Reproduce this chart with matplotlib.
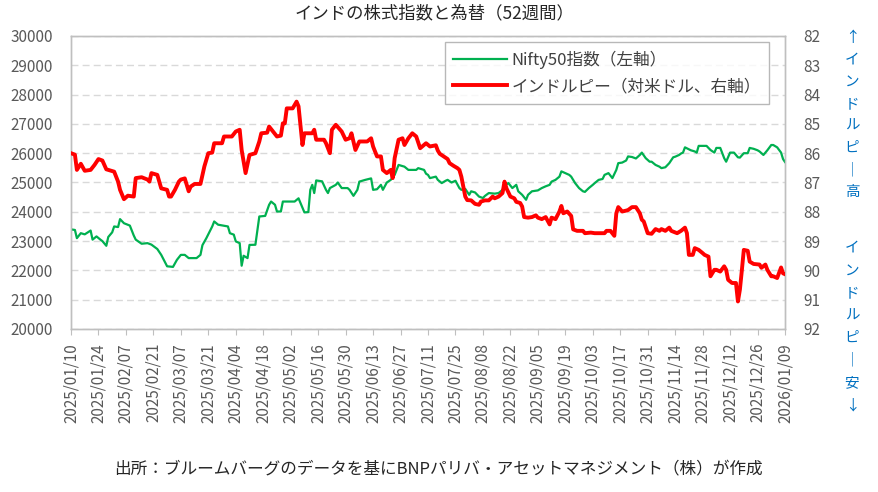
import matplotlib
matplotlib.use('Agg')
import matplotlib.pyplot as plt
import pandas as pd

plt.rcParams['font.family'] = ['Noto Sans CJK JP', 'DejaVu Sans']

# Nifty50 (left axis)
nifty_dates = [
    '2025/01/10', '2025/01/12', '2025/01/13', '2025/01/15', '2025/01/17', '2025/01/20', '2025/01/21', '2025/01/23',
    '2025/01/25', '2025/01/26', '2025/01/28', '2025/01/29', '2025/01/31', '2025/02/01', '2025/02/03', '2025/02/04',
    '2025/02/06', '2025/02/09', '2025/02/11', '2025/02/12', '2025/02/15', '2025/02/18', '2025/02/20', '2025/02/23',
    '2025/02/25', '2025/02/28', '2025/03/03', '2025/03/05', '2025/03/07', '2025/03/09', '2025/03/11', '2025/03/15',
    '2025/03/17', '2025/03/18', '2025/03/20', '2025/03/23', '2025/03/24', '2025/03/26', '2025/03/31', '2025/04/01',
    '2025/04/03', '2025/04/04', '2025/04/06', '2025/04/07', '2025/04/08', '2025/04/10', '2025/04/11', '2025/04/14',
    '2025/04/16', '2025/04/19', '2025/04/21', '2025/04/22', '2025/04/24', '2025/04/25', '2025/04/27', '2025/04/28',
    '2025/05/04', '2025/05/06', '2025/05/07', '2025/05/09', '2025/05/11', '2025/05/12', '2025/05/13', '2025/05/14',
    '2025/05/15', '2025/05/18', '2025/05/20', '2025/05/21', '2025/05/22', '2025/05/25', '2025/05/26', '2025/05/28',
    '2025/05/31', '2025/06/01', '2025/06/03', '2025/06/05', '2025/06/06', '2025/06/09', '2025/06/12', '2025/06/13',
    '2025/06/15', '2025/06/17', '2025/06/18', '2025/06/20', '2025/06/22', '2025/06/24', '2025/06/26', '2025/06/29',
    '2025/07/01', '2025/07/05', '2025/07/06', '2025/07/09', '2025/07/10', '2025/07/11', '2025/07/12', '2025/07/15',
    '2025/07/16', '2025/07/18', '2025/07/20', '2025/07/21', '2025/07/23', '2025/07/25', '2025/07/27', '2025/07/28',
    '2025/07/30', '2025/08/01', '2025/08/02', '2025/08/04', '2025/08/06', '2025/08/08', '2025/08/09', '2025/08/11',
    '2025/08/14', '2025/08/16', '2025/08/18', '2025/08/19', '2025/08/21', '2025/08/23', '2025/08/25', '2025/08/26',
    '2025/08/28', '2025/08/30', '2025/08/31', '2025/09/02', '2025/09/05', '2025/09/07', '2025/09/09', '2025/09/11',
    '2025/09/12', '2025/09/14', '2025/09/16', '2025/09/17', '2025/09/19', '2025/09/21', '2025/09/22', '2025/09/24',
    '2025/09/26', '2025/09/28', '2025/09/29', '2025/10/01', '2025/10/03', '2025/10/04', '2025/10/06', '2025/10/08',
    '2025/10/09', '2025/10/11', '2025/10/13', '2025/10/15', '2025/10/16', '2025/10/18', '2025/10/20', '2025/10/21',
    '2025/10/23', '2025/10/25', '2025/10/27', '2025/10/28', '2025/10/30', '2025/11/01', '2025/11/02', '2025/11/04',
    '2025/11/06', '2025/11/07', '2025/11/09', '2025/11/11', '2025/11/13', '2025/11/14', '2025/11/16', '2025/11/17',
    '2025/11/18', '2025/11/19', '2025/11/22', '2025/11/24', '2025/11/25', '2025/11/26', '2025/11/30', '2025/12/02',
    '2025/12/04', '2025/12/05', '2025/12/07', '2025/12/09', '2025/12/10', '2025/12/12', '2025/12/14', '2025/12/16',
    '2025/12/17', '2025/12/19', '2025/12/21', '2025/12/22', '2025/12/24', '2025/12/26', '2025/12/27', '2025/12/29',
    '2025/12/31', '2026/01/02', '2026/01/03', '2026/01/05', '2026/01/07', '2026/01/08', '2026/01/09']
nifty = [
    23400, 23380, 23100, 23270, 23230, 23360, 23050, 23160,
    23050, 23000, 22840, 23140, 23300, 23500, 23480, 23750,
    23610, 23530, 23190, 23050, 22910, 22930, 22880, 22730,
    22530, 22140, 22120, 22360, 22530, 22530, 22420, 22420,
    22530, 22860, 23100, 23500, 23670, 23560, 23500, 23270,
    23220, 22990, 22930, 22160, 22500, 22420, 22870, 22875,
    23840, 23860, 24240, 24350, 24240, 24010, 24010, 24350,
    24350, 24460, 24300, 23980, 23990, 24750, 24920, 24640,
    25070, 25040, 24750, 24640, 24810, 24920, 25000, 24810,
    24810, 24750, 24545, 24750, 25030, 25090, 25140, 24750,
    24770, 24920, 24750, 25000, 25090, 25260, 25600, 25540,
    25430, 25430, 25490, 25430, 25300, 25260, 25150, 25200,
    25090, 24980, 25060, 25090, 25000, 25060, 24810, 24750,
    24780, 24580, 24700, 24660, 24520, 24470, 24540, 24640,
    24620, 24640, 24750, 24890, 24980, 24810, 24920, 24700,
    24580, 24410, 24580, 24700, 24730, 24810, 24870, 24920,
    25030, 25090, 25200, 25380, 25320, 25260, 25200, 24980,
    24810, 24700, 24680, 24810, 24920, 24980, 25090, 25120,
    25260, 25320, 25150, 25430, 25660, 25680, 25750, 25890,
    25870, 25820, 25940, 26020, 25830, 25710, 25710, 25600,
    25540, 25490, 25520, 25660, 25860, 25880, 25940, 25990,
    26020, 26200, 26100, 26060, 26020, 26250, 26250, 26110,
    26020, 26180, 26180, 25830, 25710, 26020, 26020, 25860,
    25850, 26000, 26000, 26180, 26150, 26100, 26060, 25940,
    26100, 26280, 26280, 26200, 26020, 25800, 25700]

# Indian rupee per US dollar (right axis, inverted)
inr_dates = [
    '2025/01/10', '2025/01/12', '2025/01/13', '2025/01/15', '2025/01/17', '2025/01/20', '2025/01/22', '2025/01/24',
    '2025/01/26', '2025/01/28', '2025/02/01', '2025/02/03', '2025/02/04', '2025/02/06', '2025/02/08', '2025/02/11',
    '2025/02/12', '2025/02/15', '2025/02/18', '2025/02/19', '2025/02/20', '2025/02/23', '2025/02/25', '2025/02/28',
    '2025/03/01', '2025/03/02', '2025/03/04', '2025/03/06', '2025/03/07', '2025/03/09', '2025/03/11', '2025/03/12',
    '2025/03/14', '2025/03/17', '2025/03/19', '2025/03/21', '2025/03/23', '2025/03/24', '2025/03/28', '2025/03/29',
    '2025/04/02', '2025/04/04', '2025/04/06', '2025/04/07', '2025/04/09', '2025/04/11', '2025/04/14', '2025/04/16',
    '2025/04/17', '2025/04/20', '2025/04/21', '2025/04/23', '2025/04/25', '2025/04/27', '2025/04/28', '2025/04/29',
    '2025/04/30', '2025/05/03', '2025/05/05', '2025/05/06', '2025/05/08', '2025/05/09', '2025/05/13', '2025/05/14',
    '2025/05/15', '2025/05/19', '2025/05/20', '2025/05/22', '2025/05/23', '2025/05/25', '2025/05/28', '2025/05/30',
    '2025/06/01', '2025/06/02', '2025/06/04', '2025/06/06', '2025/06/10', '2025/06/12', '2025/06/13', '2025/06/15',
    '2025/06/17', '2025/06/18', '2025/06/20', '2025/06/22', '2025/06/23', '2025/06/24', '2025/06/26', '2025/06/28',
    '2025/06/29', '2025/07/01', '2025/07/03', '2025/07/05', '2025/07/07', '2025/07/10', '2025/07/12', '2025/07/15',
    '2025/07/16', '2025/07/17', '2025/07/19', '2025/07/21', '2025/07/22', '2025/07/24', '2025/07/26', '2025/07/27',
    '2025/07/28', '2025/07/30', '2025/07/31', '2025/08/02', '2025/08/04', '2025/08/06', '2025/08/07', '2025/08/09',
    '2025/08/11', '2025/08/13', '2025/08/14', '2025/08/16', '2025/08/18', '2025/08/19', '2025/08/20', '2025/08/22',
    '2025/08/24', '2025/08/25', '2025/08/27', '2025/08/28', '2025/08/29', '2025/08/31', '2025/09/02', '2025/09/04',
    '2025/09/05', '2025/09/07', '2025/09/09', '2025/09/11', '2025/09/12', '2025/09/14', '2025/09/16', '2025/09/17',
    '2025/09/18', '2025/09/20', '2025/09/22', '2025/09/23', '2025/09/25', '2025/09/28', '2025/09/29', '2025/10/02',
    '2025/10/04', '2025/10/07', '2025/10/09', '2025/10/10', '2025/10/12', '2025/10/14', '2025/10/15', '2025/10/16',
    '2025/10/18', '2025/10/20', '2025/10/21', '2025/10/23', '2025/10/25', '2025/10/27', '2025/10/28', '2025/10/29',
    '2025/10/31', '2025/11/02', '2025/11/04', '2025/11/06', '2025/11/07', '2025/11/09', '2025/11/11', '2025/11/12',
    '2025/11/15', '2025/11/17', '2025/11/19', '2025/11/20', '2025/11/21', '2025/11/23', '2025/11/24', '2025/11/26',
    '2025/11/28', '2025/11/29', '2025/12/01', '2025/12/02', '2025/12/04', '2025/12/05', '2025/12/07', '2025/12/09',
    '2025/12/10', '2025/12/11', '2025/12/13', '2025/12/15', '2025/12/16', '2025/12/17', '2025/12/18', '2025/12/19',
    '2025/12/21', '2025/12/22', '2025/12/24', '2025/12/27', '2025/12/28', '2025/12/30', '2025/12/31', '2026/01/02',
    '2026/01/03', '2026/01/05', '2026/01/07', '2026/01/08', '2026/01/09']
inr = [
    86.00, 86.05, 86.57, 86.36, 86.60, 86.57, 86.40, 86.20,
    86.25, 86.55, 86.63, 86.97, 87.25, 87.57, 87.45, 87.48,
    86.85, 86.82, 86.90, 86.97, 86.68, 86.74, 87.20, 87.25,
    87.48, 87.48, 87.25, 86.97, 86.90, 86.86, 87.30, 87.14,
    87.05, 87.05, 86.45, 86.00, 85.98, 85.66, 85.66, 85.43,
    85.43, 85.26, 85.20, 85.89, 86.68, 86.06, 86.00, 85.60,
    85.32, 85.30, 85.09, 85.26, 85.43, 85.40, 84.98, 84.98,
    84.47, 84.47, 84.24, 84.40, 85.72, 85.32, 85.32, 85.20,
    85.54, 85.54, 85.66, 86.00, 85.20, 85.03, 85.26, 85.54,
    85.49, 85.32, 85.89, 85.60, 85.60, 85.49, 85.77, 86.11,
    86.11, 86.57, 86.68, 86.57, 86.85, 86.17, 85.54, 85.49,
    85.72, 85.49, 85.32, 85.43, 85.83, 85.66, 85.77, 85.73,
    85.91, 86.02, 86.11, 86.20, 86.34, 86.43, 86.51, 86.57,
    86.80, 87.48, 87.60, 87.61, 87.73, 87.76, 87.65, 87.61,
    87.61, 87.48, 87.54, 87.48, 87.36, 86.97, 87.20, 87.48,
    87.54, 87.66, 87.70, 87.82, 88.18, 88.20, 88.18, 88.12,
    88.20, 88.25, 88.18, 88.43, 88.20, 88.25, 87.99, 87.80,
    88.05, 87.99, 88.14, 88.60, 88.65, 88.65, 88.73, 88.71,
    88.73, 88.73, 88.73, 88.65, 88.65, 88.82, 88.05, 87.84,
    87.99, 87.96, 87.94, 87.84, 87.84, 88.05, 88.27, 88.33,
    88.73, 88.75, 88.59, 88.65, 88.59, 88.65, 88.54, 88.65,
    88.73, 88.65, 88.54, 88.73, 89.47, 89.47, 89.24, 89.30,
    89.41, 89.47, 89.53, 90.20, 89.98, 89.98, 90.04, 89.86,
    89.98, 90.32, 90.43, 90.43, 91.06, 90.66, 90.00, 89.30,
    89.33, 89.70, 89.78, 89.80, 89.91, 89.80, 89.98, 90.20,
    90.20, 90.26, 89.90, 90.10, 90.13]

tick_dates = pd.date_range('2025/01/10', '2026/01/09', freq='14D')

title = 'インドの株式指数と為替（52週間）'
label_nifty = 'Nifty50指数（左軸）'
label_inr = 'インドルピー（対米ドル、右軸）'
source = '出所：ブルームバーグのデータを基にBNPパリバ・アセットマネジメント（株）が作成'
note_up = ['↑', 'イ', 'ン', 'ド', 'ル', 'ピ', '｜', '高']
note_down = ['イ', 'ン', 'ド', 'ル', 'ピ', '｜', '安', '↓']

GREEN = '#00B050'
RED = '#FF0000'
GRID = '#D9D9D9'
SPINE = '#BFBFBF'
TXT = '#595959'
BLUE = '#0070C0'

W, H = 879, 492
fig = plt.figure(figsize=(W / 100, H / 100), dpi=100)
ax = fig.add_axes([71 / W, 1 - 329 / H, 714 / W, 293 / H])
ax2 = ax.twinx()

xd_n = pd.to_datetime(nifty_dates, format='%Y/%m/%d')
xd_r = pd.to_datetime(inr_dates, format='%Y/%m/%d')
l1, = ax.plot(xd_n, nifty, color=GREEN, lw=1.6, label=label_nifty, zorder=3)
l2, = ax2.plot(xd_r, inr, color=RED, lw=2.8, label=label_inr, zorder=3)

ax.set_xlim(tick_dates[0], tick_dates[-1])
ax.set_ylim(20000, 30000)
ax.set_yticks(range(20000, 30001, 1000))
ax2.set_ylim(92, 82)
ax2.set_yticks(range(82, 93))

ax.yaxis.grid(True, color=GRID, lw=1, linestyle=(0, (5, 3)))
ax.set_axisbelow(True)

ax.set_xticks(tick_dates)
ax.set_xticklabels([d.strftime('%Y/%m/%d') for d in tick_dates], rotation=90)
ax.tick_params(axis='x', length=4, color=SPINE, colors=TXT, labelsize=11, pad=6)
ax.tick_params(axis='y', length=0, colors=TXT, labelsize=11, pad=13)
ax2.tick_params(axis='y', length=0, colors=TXT, labelsize=11, pad=13)
for a in (ax, ax2):
    for s in a.spines.values():
        s.set_color(SPINE)
        s.set_linewidth(1)

leg = ax2.legend(handles=[l1, l2], loc='upper right', bbox_to_anchor=(0.978, 0.978),
                 fontsize=12, frameon=True, fancybox=False, edgecolor='#A6A6A6',
                 handlelength=3.2, borderpad=0.5, labelspacing=0.55, handletextpad=0.3,
                 borderaxespad=0.0)
leg.get_frame().set_linewidth(1)
for t in leg.get_texts():
    t.set_color('#404040')

fig.text(434 / W, 1 - 13 / H, title, ha='center', va='center', fontsize=12.5, color='#262626')
fig.text(438 / W, 1 - 470 / H, source, ha='center', va='center', fontsize=12, color='#262626')

for i, ch in enumerate(note_up):
    fig.text(852 / W, 1 - (38 + 22 * i) / H, ch, ha='center', va='center', fontsize=10.5, color=BLUE)
for i, ch in enumerate(note_down):
    fig.text(852 / W, 1 - (248 + 22.5 * i) / H, ch, ha='center', va='center', fontsize=10.5, color=BLUE)

fig.savefig('out.png', dpi=100)
